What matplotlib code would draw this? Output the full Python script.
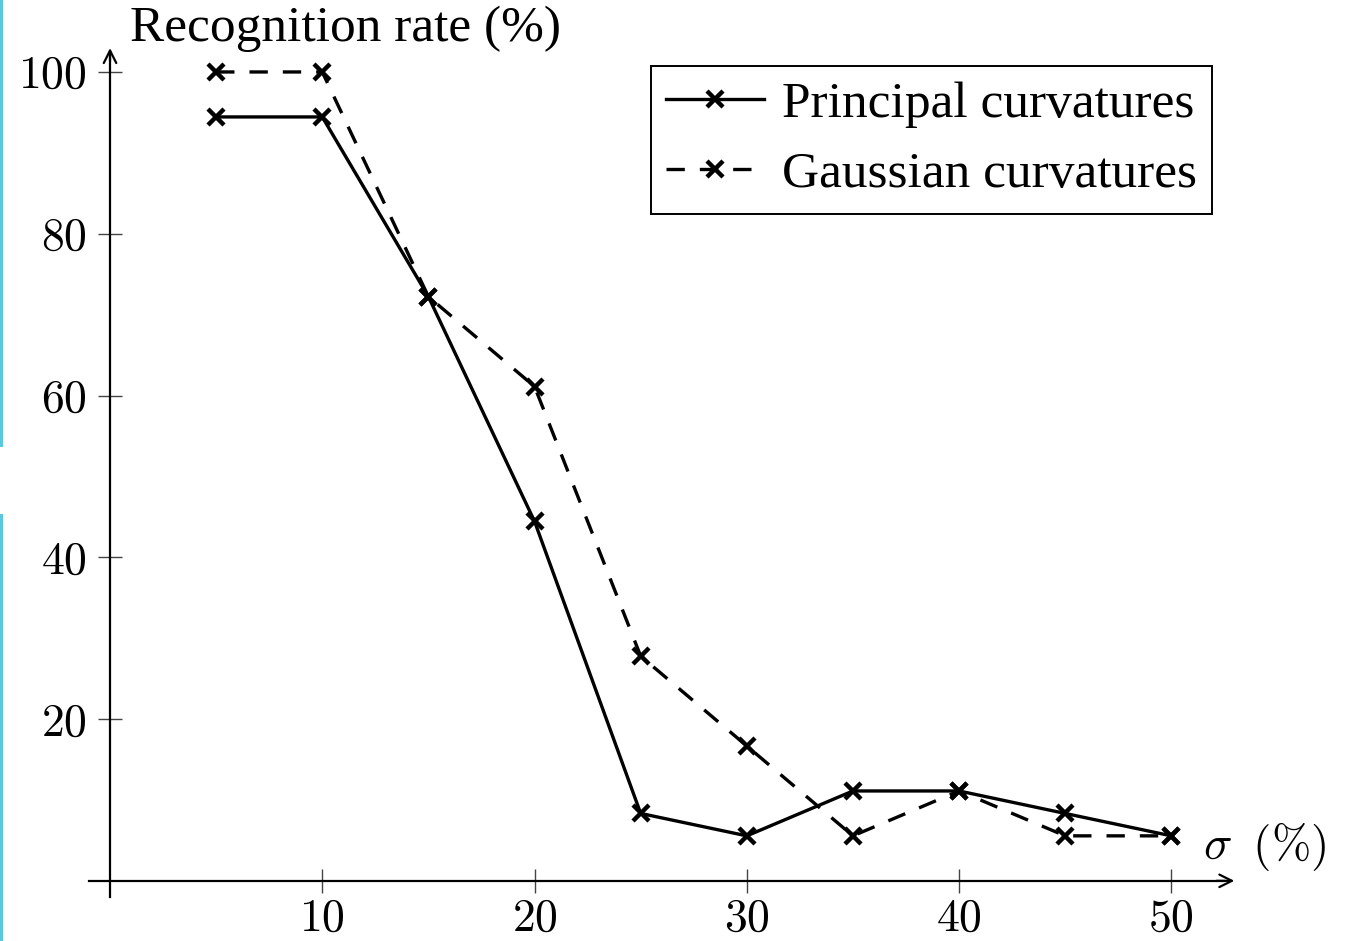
import matplotlib
matplotlib.use("Agg")
import matplotlib.pyplot as plt
from matplotlib.lines import Line2D

plt.rcParams["font.family"] = ["Liberation Serif", "DejaVu Serif"]
plt.rcParams["mathtext.fontset"] = "cm"

# recognition rate (%) vs noise level sigma (%)
sigma = [5, 10, 15, 20, 25, 30, 35, 40, 45, 50]
principal = [94.44, 94.44, 72.22, 44.44, 8.33, 5.56, 11.11, 11.11, 8.33, 5.56]
gaussian = [100.0, 100.0, 72.22, 61.11, 27.78, 16.67, 5.56, 11.11, 5.56, 5.56]
xticks = [10, 20, 30, 40, 50]
yticks = [20, 40, 60, 80, 100]

W, H = 1348, 941
fig = plt.figure(figsize=(W / 100, H / 100), dpi=100)
ax = fig.add_axes([88.8 / W, 44 / H, (1235 - 88.8) / W, (897 - 47.7) / H])
ax.set_xlim(-1, 53)
ax.set_ylim(-2, 103)

# pgfplots-like axis lines crossing at the origin
for side in ("top", "right"):
    ax.spines[side].set_visible(False)
ax.spines["bottom"].set_position(("data", 0))
ax.spines["left"].set_position(("data", 0))
ax.spines["bottom"].set_bounds(-1, 52.5)
ax.spines["left"].set_bounds(-2, 102.5)
for s in ("bottom", "left"):
    ax.spines[s].set_linewidth(1.6)
ax.annotate("", xy=(53.1, 0), xytext=(52, 0),
            arrowprops=dict(arrowstyle="->,head_length=0.9,head_width=0.45", lw=1.6, color="black"),
            annotation_clip=False)
ax.annotate("", xy=(0, 103.3), xytext=(0, 101),
            arrowprops=dict(arrowstyle="->,head_length=0.9,head_width=0.45", lw=1.6, color="black"),
            annotation_clip=False)

ax.set_xticks(xticks)
ax.set_yticks(yticks)
ax.set_xticklabels([f"${v}$" for v in xticks])
ax.set_yticklabels([f"${v}$" for v in yticks])
ax.tick_params(direction="inout", length=17, width=1.0, labelsize=33, color="#444444")
ax.tick_params(axis="x", pad=4)
ax.tick_params(axis="y", pad=8)

ms, mew, lw = 11, 3.2, 2.4
ax.plot(sigma, principal, color="black", lw=lw, marker="x", ms=ms, mew=mew,
        label="Principal curvatures", clip_on=False, zorder=3)
ax.plot(sigma, gaussian, color="black", lw=lw, ls=(0, (5.5, 4.5)), marker="x", ms=ms, mew=mew,
        label="Gaussian curvatures", clip_on=False, zorder=3)

ax.text(11.1, 105.4, "Recognition rate (%)", fontsize=37, ha="center", va="center",
        clip_on=False)
ax.text(51.5, 4.2, r"$\sigma\;\;(\%)$", fontsize=34, ha="left", va="center", clip_on=False)

leg = ax.legend(loc="upper right", bbox_to_anchor=(1212 / W, 1 - 66 / H),
                bbox_transform=fig.transFigure, borderaxespad=0, fontsize=37,
                fancybox=False, edgecolor="black", framealpha=1, handlelength=1.9,
                handletextpad=0.35, borderpad=0.3, labelspacing=0.45)
leg.get_frame().set_linewidth(1.4)

# thin cyan strip at the left edge of the picture, broken mid-height
fig.add_artist(Line2D([1 / W, 1 / W], [0, 1 - 515 / H], color="#5bc8e0", lw=2.2,
                      transform=fig.transFigure))
fig.add_artist(Line2D([1 / W, 1 / W], [1 - 445 / H, 1], color="#5bc8e0", lw=2.2,
                      transform=fig.transFigure))

fig.savefig("out.png", dpi=100)
